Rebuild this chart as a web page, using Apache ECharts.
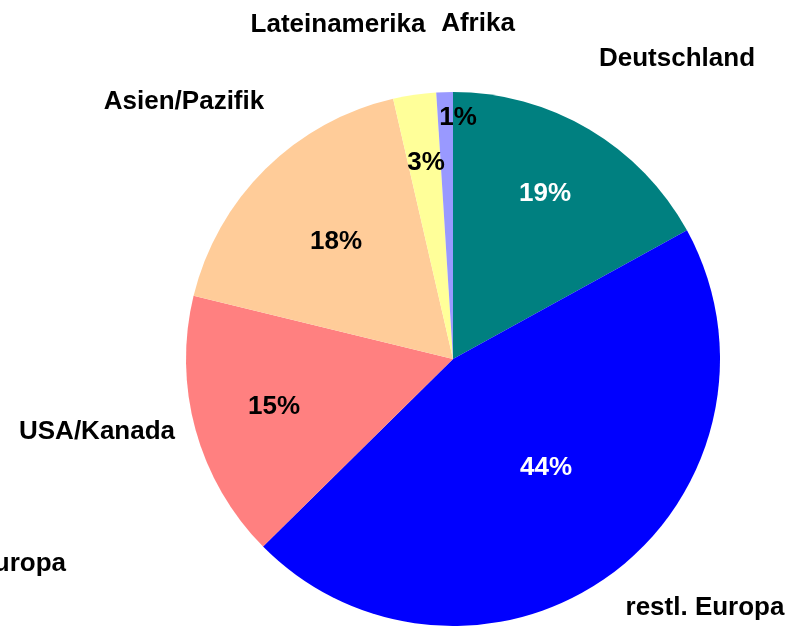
<!DOCTYPE html>
<html>
<head>
<meta charset="utf-8">
<script src="https://cdn.jsdelivr.net/npm/echarts@6/dist/echarts.min.js"></script>
<style>
  html, body { margin: 0; padding: 0; background: #fff; }
  #chart { width: 802px; height: 626px; }
</style>
</head>
<body>
<div id="chart"></div>
<script>
// slice sizes as drawn, and the percent texts printed on them
var regions = ["Deutschland", "restl. Europa", "USA/Kanada", "Asien/Pazifik", "Lateinamerika", "Afrika"];
var shares = [17.0, 45.6, 16.2, 17.6, 2.6, 1.0];
var shareLabels = ["19%", "44%", "15%", "18%", "3%", "1%"];
// one more name label with no visible slice, cut off at the left edge
var extraRegion = "Osteuropa";

var colors = ["#008080", "#0000FF", "#FF8080", "#FFCC99", "#FFFF99", "#9999FF"];
var pctColors = ["#fff", "#fff", "#000", "#000", "#000", "#000"];

// where the texts sit (px), Excel style
var pctPos = [[545, 194], [546, 468], [274, 407], [336, 242], [426, 163], [458, 118]];
var namePos = [[677, 59], [705, 608], [97, 432], [184, 102], [338, 25], [478, 24], [66, 564]];

var font = { fontFamily: "Liberation Sans, Arial, sans-serif", fontWeight: "bold", fontSize: 26 };

var myChart = echarts.init(document.getElementById("chart"));

var sliceData = regions.map(function (name, i) {
  return {
    name: name,
    value: shares[i],
    itemStyle: { color: colors[i] },
    label: { color: pctColors[i] }
  };
});

var nameData = regions.map(function (name, i) {
  return { name: name, value: shares[i] };
});
nameData.push({ name: extraRegion, value: 0 });

var option = {
  animation: false,
  series: [
    {
      type: "pie",
      center: [453, 359],
      radius: 267,
      startAngle: 90,
      clockwise: true,
      avoidLabelOverlap: false,
      silent: true,
      itemStyle: { borderWidth: 0 },
      label: Object.assign({
        show: true,
        position: "inside",
        formatter: function (p) { return shareLabels[p.dataIndex]; }
      }, font),
      labelLine: { show: false },
      labelLayout: function (p) {
        var pos = pctPos[p.dataIndex];
        return { x: pos[0], y: pos[1], align: "center", verticalAlign: "middle" };
      },
      data: sliceData
    },
    {
      type: "pie",
      center: [453, 359],
      radius: 267,
      startAngle: 90,
      avoidLabelOverlap: false,
      silent: true,
      stillShowZeroSum: true,
      itemStyle: { color: "rgba(0,0,0,0)", borderWidth: 0 },
      label: Object.assign({
        show: true,
        position: "outside",
        color: "#000",
        formatter: "{b}"
      }, font),
      labelLine: { show: false },
      labelLayout: function (p) {
        var pos = namePos[p.dataIndex];
        var last = p.dataIndex === regions.length;
        return { x: pos[0], y: pos[1], align: last ? "right" : "center", verticalAlign: "middle" };
      },
      data: nameData
    }
  ]
};

option && myChart.setOption(option);
</script>
</body>
</html>
